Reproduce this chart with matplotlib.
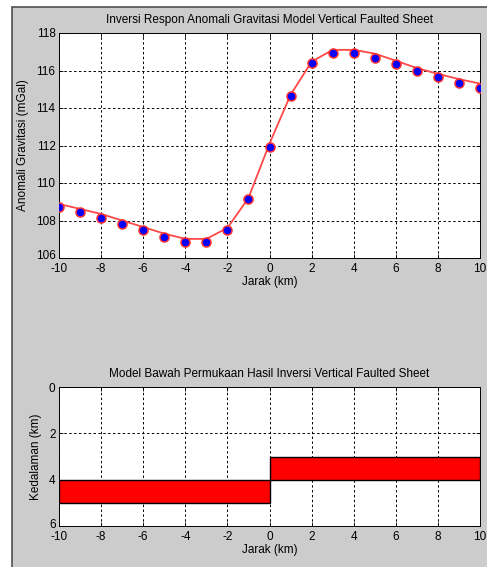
import matplotlib
matplotlib.use("Agg")
import matplotlib.pyplot as plt
import matplotlib.transforms as mtransforms
from matplotlib.patches import Rectangle

plt.rcParams["font.family"] = ["Liberation Sans", "DejaVu Sans"]
plt.rcParams["font.size"] = 8
plt.rcParams["axes.unicode_minus"] = False

# observed gravity anomaly (dots) and inverted model response (line)
jarak = list(range(-10, 11))
obs = [108.73, 108.46, 108.14, 107.8, 107.48, 107.1, 106.86, 106.86, 107.48, 109.16,
       111.94, 114.63, 116.38, 116.96, 116.96, 116.68, 116.36, 115.98, 115.65, 115.34, 115.08]
calc = [108.88, 108.62, 108.35, 108.0, 107.65, 107.3, 107.02, 107.02, 107.6, 109.2,
        112.1, 114.7, 116.47, 117.1, 117.1, 116.9, 116.52, 116.13, 115.82, 115.54, 115.3]

# subsurface model blocks: x start, x end, top depth, bottom depth
blok_x0 = [-10, 0]
blok_x1 = [0, 10]
blok_top = [4, 3]
blok_bot = [5, 4]

W, H = 487, 567
fig = plt.figure(figsize=(W / 100, H / 100), dpi=100)
fig.patch.set_facecolor("white")
# grey figure window, framed on the left and top only
fig.patches.append(Rectangle((12 / W, -0.05), 1.1, 1.05 - 7 / H, transform=fig.transFigure,
                             facecolor="#cccccc", edgecolor="#505050", lw=1.2, zorder=-1))

def style(a):
    a.set_facecolor("white")
    a.grid(True, color="black", linestyle=(0, (2.5, 2.5)), lw=0.7)
    a.tick_params(direction="in", top=True, right=True, length=3, width=0.6,
                  labelsize=8.5, pad=2.5, colors="black")
    a.tick_params(axis="x", pad=3.5)
    for s in a.spines.values():
        s.set_linewidth(0.7)

def nudge_bottom_label(a):
    # lowest y label sits a little above its tick, clear of the "-10" below
    lab = a.get_yticklabels()[-1] if a.yaxis_inverted() else a.get_yticklabels()[0]
    lab.set_transform(lab.get_transform() +
                      mtransforms.ScaledTranslation(0, 3 / 100, fig.dpi_scale_trans))

ax = fig.add_axes([59 / W, 1 - 258 / H, 421 / W, 225 / H])
ax.plot(jarak, calc, "-", color="#ff4848", lw=1.3, zorder=3)
ax.plot(jarak, obs, "o", ms=6.5, markerfacecolor="blue", markeredgecolor="#ff3030",
        markeredgewidth=1.1, zorder=4)
ax.set_xlim(-10, 10)
ax.set_ylim(106, 118)
ax.set_xticks(range(-10, 11, 2))
ax.set_yticks(range(106, 119, 2))
style(ax)
nudge_bottom_label(ax)
ax.set_title("Inversi Respon Anomali Gravitasi Model Vertical Faulted Sheet", fontsize=8.5, pad=7)
ax.set_xlabel("Jarak (km)", fontsize=8.5, labelpad=1)
ax.set_ylabel("Anomali Gravitasi (mGal)", fontsize=8.5, labelpad=5)

ax2 = fig.add_axes([59 / W, 1 - 526 / H, 421 / W, 139 / H])
for x0, x1, t, b in zip(blok_x0, blok_x1, blok_top, blok_bot):
    ax2.add_patch(Rectangle((x0, t), x1 - x0, b - t, facecolor="red",
                            edgecolor="black", lw=1.0, zorder=3))
ax2.set_xlim(-10, 10)
ax2.set_ylim(6, 0)
ax2.set_xticks(range(-10, 11, 2))
ax2.set_yticks(range(0, 7, 2))
style(ax2)
nudge_bottom_label(ax2)
ax2.set_title("Model Bawah Permukaan Hasil Inversi Vertical Faulted Sheet", fontsize=8.5, pad=7)
ax2.set_xlabel("Jarak (km)", fontsize=8.5, labelpad=1)
ax2.set_ylabel("Kedalaman (km)", fontsize=8.5, labelpad=5)

fig.savefig("out.png", dpi=100)
